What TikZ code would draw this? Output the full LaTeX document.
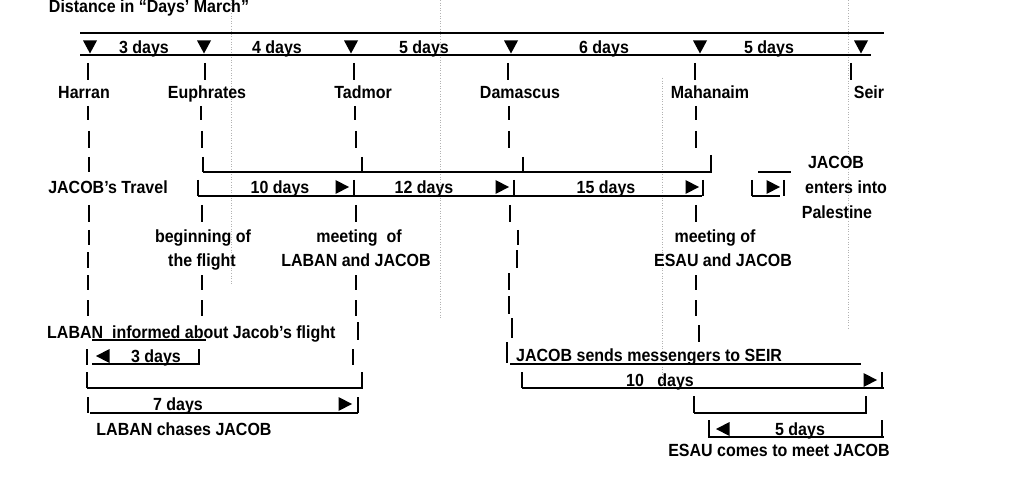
\documentclass[tikz,border=0pt]{standalone}
\usepackage{fontspec}
\setmainfont{Liberation Sans}
\newsavebox{\lblbox}
\begin{document}
\begin{tikzpicture}[x=1pt,y=-1pt,
  lbl/.style={anchor=base,yshift=-6.3pt,inner sep=0pt,font=\fontsize{16}{19}\selectfont\bfseries,
    execute at begin node={\begin{lrbox}{\lblbox}},
    execute at end node={\end{lrbox}\scalebox{1}[1.1]{\usebox{\lblbox}}}},
  bar/.style={line width=1.8pt},
  tk/.style={line width=2pt},
  guide/.style={gray!60,dotted,line width=0.6pt},
  tri/.style={fill=black}]
\useasboundingbox (0,0) rectangle (1024,486);
\fill[white] (0,0) rectangle (1024,486);

% faint guide lines
\draw[guide] (231,0) -- (231,285);
\draw[guide] (440,0) -- (440,318);
\draw[guide] (662,78) -- (662,385);
\draw[guide] (848,0) -- (848,330);

% title and top scale
\node[lbl] (title) at (149,6) {Distance in “Days’ March”};
\coordinate (h1a) at (80,33); \coordinate (h1b) at (884,33);
\coordinate (h2a) at (80,55); \coordinate (h2b) at (871,55);
\draw[bar] (h1a) -- (h1b);
\draw[bar] (h2a) -- (h2b);
\foreach \x in {90,204,351,511,700,861}
  \fill[tri] (\x,47) +(-7,-6.5) -- +(7,-6.5) -- +(0,6.5) -- cycle;
\node[lbl] (d1) at (144,47) {3 days};
\node[lbl] (d2) at (277,47) {4 days};
\node[lbl] (d3) at (424,47) {5 days};
\node[lbl] (d4) at (604,47) {6 days};
\node[lbl] (d5) at (769,47) {5 days};

% place names
\node[lbl] (harran) at (84,92) {Harran};
\node[lbl] (euph) at (207,92) {Euphrates};
\node[lbl] (tadmor) at (363,92) {Tadmor};
\node[lbl] (damascus) at (520,92) {Damascus};
\node[lbl] (mahanaim) at (710,92) {Mahanaim};
\node[lbl] (seir) at (869,92) {Seir};

% vertical dashed ticks: x/ytop/ybottom
\foreach \x/\a/\b in {
  88/63/80, 88/106/120, 89/131/148, 89/157/172, 89/205/222, 89/230/245, 88/252/268, 88/275/290, 88/300/316, 87/349/365, 87/372/388, 88/397/413,
  205/63/80, 201/106/120, 202/131/148, 203/157/172, 198/180/196, 202/205/222, 202/275/290, 202/300/316, 199/349/365,
  354/63/80, 355/106/120, 356/131/148, 362/157/172, 354/180/196, 356/205/222, 356/275/290, 356/300/316, 358/322/340, 353/349/365, 362/372/388, 358/397/413,
  508/63/80, 509/106/120, 509/131/148, 523/157/172, 514/180/196, 510/205/222, 518/230/245, 517/250/268, 509/273/290, 509/296/314, 512/318/338, 507/342/363, 522/372/388,
  695/63/80, 696/106/120, 696/131/148, 711/155/172, 703/180/196, 696/205/222, 696/275/290, 696/300/316, 699/325/342, 694/396/413,
  851/63/80, 752/180/196, 784/180/196, 882/372/388, 866/396/413, 709/420/437, 882/420/437}
  \draw[tk] (\x,\a) -- (\x,\b);

% Jacob's travel
\node[lbl] (travel) at (108,187) {JACOB’s Travel};
\draw[bar] (203,172) -- (712,172);
\draw[bar] (198,196) -- (702,196);
\foreach \x in {342,502,692,773}
  \fill[tri] (\x,187) +(-6.5,-7) -- +(-6.5,7) -- +(7,0) -- cycle;
\node[lbl] (t10) at (280,187) {10 days};
\node[lbl] (t12) at (424,187) {12 days};
\node[lbl] (t15) at (606,187) {15 days};
\draw[bar] (758,172) -- (791,172);
\draw[bar] (752,196) -- (780,196);
\node[lbl] (pal1) at (836,162) {JACOB};
\node[lbl] (pal2) at (846,187) {enters into};
\node[lbl] (pal3) at (837,212) {Palestine};

% events
\node[lbl] (beg1) at (203,236) {beginning of};
\node[lbl] (beg2) at (202,260) {the flight};
\node[lbl] (mlj1) at (359,236) {meeting\ \ of};
\node[lbl] (mlj2) at (356,260) {LABAN and JACOB};
\node[lbl] (mej1) at (715,236) {meeting of};
\node[lbl] (mej2) at (723,260) {ESAU and JACOB};

% Laban
\node[lbl,anchor=base west] (laban) at (47,332) {LABAN\ \ informed about Jacob’s flight};
\draw[bar] (92,340) -- (206,340);
\draw[bar] (92,364) -- (200,364);
\fill[tri] (103,356) +(6.5,-7) -- +(6.5,7) -- +(-7,0) -- cycle;
\node[lbl] (l3) at (156,356) {3 days};
\draw[bar] (87,388) -- (363,388);
\draw[bar] (90,413) -- (358,413);
\node[lbl] (l7) at (178,404) {7 days};
\fill[tri] (345,404) +(-6.5,-7) -- +(-6.5,7) -- +(7,0) -- cycle;
\node[lbl] (chase) at (184,429) {LABAN chases JACOB};

% Jacob sends messengers / Esau
\node[lbl,anchor=base west] (msg) at (516,355) {JACOB sends messengers to SEIR};
\draw[bar] (510,364) -- (861,364);
\draw[bar] (522,388) -- (884,388);
\node[lbl] (m10) at (660,380) {10\ \ \ days};
\fill[tri] (870,380) +(-6.5,-7) -- +(-6.5,7) -- +(7,0) -- cycle;
\draw[bar] (694,413) -- (867,413);
\draw[bar] (708,437) -- (884,437);
\fill[tri] (723,429) +(6.5,-7) -- +(6.5,7) -- +(-7,0) -- cycle;
\node[lbl] (e5) at (800,429) {5 days};
\node[lbl] (esau) at (779,450) {ESAU comes to meet JACOB};
\end{tikzpicture}
\end{document}
